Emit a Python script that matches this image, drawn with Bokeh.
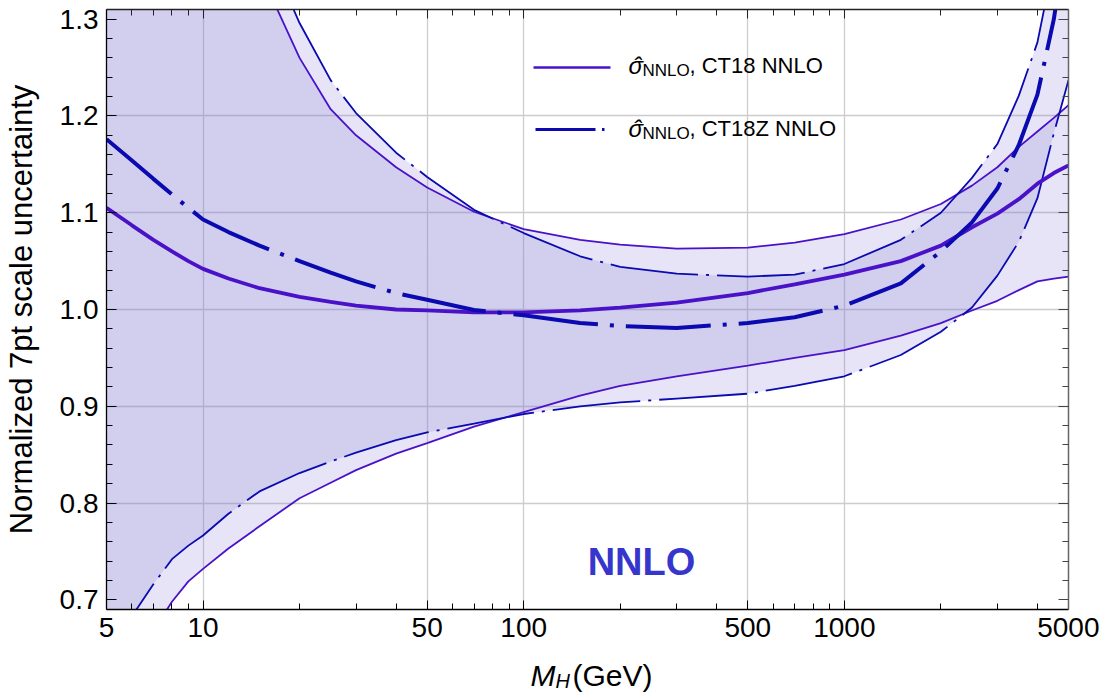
from bokeh.plotting import figure
from bokeh.layouts import column
from bokeh.models import (Range1d, FixedTicker, LogAxis, LinearAxis, Label,
                          BoxAnnotation, ColumnDataSource)
from bokeh.embed import file_html
from bokeh.resources import INLINE

# ---------------- data ----------------
mass = [5, 6, 7, 8, 9, 10, 12, 15, 20, 25, 30, 40, 50, 70, 100, 150, 200, 300,
        500, 700, 1000, 1500, 2000, 2500, 3000, 3500, 4000, 4500, 5000]

ct18_central = [1.105, 1.087, 1.072, 1.060, 1.050, 1.042, 1.032, 1.022, 1.013, 1.008,
                1.004, 1.000, 0.999, 0.997, 0.997, 0.999, 1.002, 1.007, 1.017, 1.026,
                1.036, 1.050, 1.066, 1.085, 1.099, 1.114, 1.130, 1.141, 1.149]
ct18_upper = [1.80, 1.73, 1.66, 1.60, 1.55, 1.50, 1.43, 1.35, 1.26, 1.207,
              1.180, 1.147, 1.126, 1.101, 1.083, 1.072, 1.067, 1.063, 1.064, 1.069,
              1.078, 1.093, 1.109, 1.128, 1.147, 1.168, 1.184, 1.198, 1.211]
ct18_lower = [0.600, 0.635, 0.668, 0.698, 0.719, 0.732, 0.753, 0.776, 0.805, 0.821,
              0.834, 0.851, 0.862, 0.879, 0.894, 0.911, 0.921, 0.931, 0.942, 0.950,
              0.958, 0.973, 0.986, 0.999, 1.009, 1.020, 1.029, 1.032, 1.034]

ct18z_central = [1.176, 1.154, 1.135, 1.119, 1.105, 1.093, 1.080, 1.066, 1.050, 1.038,
                 1.029, 1.017, 1.010, 0.9995, 0.994, 0.986, 0.983, 0.981, 0.986, 0.992,
                 1.004, 1.027, 1.060, 1.090, 1.125, 1.170, 1.222, 1.300, 1.400]
ct18z_upper = [1.95, 1.85, 1.76, 1.68, 1.62, 1.57, 1.48, 1.39, 1.296, 1.237,
               1.203, 1.162, 1.137, 1.103, 1.079, 1.055, 1.044, 1.037, 1.034, 1.036,
               1.047, 1.072, 1.100, 1.136, 1.171, 1.221, 1.276, 1.36, 1.48]
ct18z_lower = [0.640, 0.683, 0.716, 0.742, 0.756, 0.7665, 0.789, 0.812, 0.831, 0.843,
               0.852, 0.865, 0.873, 0.882, 0.892, 0.900, 0.904, 0.908, 0.913, 0.921,
               0.931, 0.953, 0.977, 1.002, 1.035, 1.070, 1.115, 1.182, 1.237]

x_major_ticks = [5, 10, 50, 100, 500, 1000, 5000]
x_tick_labels = ["5", "10", "50", "100", "500", "1000", "5000"]
x_minor_ticks = [6, 7, 8, 9, 20, 30, 40, 60, 70, 80, 90, 200, 300, 400,
                 600, 700, 800, 900, 2000, 3000, 4000]
x_grid_ticks = [10, 50, 100, 500, 1000]
y_major_ticks = [0.7, 0.8, 0.9, 1.0, 1.1, 1.2, 1.3]
y_tick_labels = ["0.7", "0.8", "0.9", "1.0", "1.1", "1.2", "1.3"]
y_minor_ticks = [0.72, 0.74, 0.76, 0.78, 0.82, 0.84, 0.86, 0.88, 0.92, 0.94, 0.96, 0.98,
                 1.02, 1.04, 1.06, 1.08, 1.12, 1.14, 1.16, 1.18, 1.22, 1.24, 1.26, 1.28]
y_grid_ticks = [0.8, 0.9, 1.0, 1.1, 1.2]

legend_names = [", CT18 NNLO", ", CT18Z NNLO"]

# ---------------- style ----------------
FONT = "Liberation Sans"
C18 = "#4a12c8"
C18Z = "#0a0ab0"
BAND = "#8278d2"
BAND_ALPHA = 0.2
MID = 0.3465  # middle of text box above baseline, in em

W = 1099
BL, BR, BT = 100, 31, 9

p = figure(width=W, height=650, x_axis_type="log",
           x_range=Range1d(5, 5000), y_range=Range1d(0.69, 1.31),
           output_backend="svg", toolbar_location=None,
           min_border_left=BL, min_border_right=BR, min_border_top=BT,
           min_border_bottom=41)
p.outline_line_color = None
p.background_fill_color = "white"

src = ColumnDataSource(data=dict(
    m=mass, c18=ct18_central, u18=ct18_upper, l18=ct18_lower,
    cz=ct18z_central, uz=ct18z_upper, lz=ct18z_lower))

# bands
p.varea(x="m", y1="l18", y2="u18", source=src, fill_color=BAND, fill_alpha=BAND_ALPHA)
p.varea(x="m", y1="lz", y2="uz", source=src, fill_color=BAND, fill_alpha=BAND_ALPHA)

# band edges
thin_dash = "88 8 3 8"
p.line("m", "u18", source=src, line_color=C18, line_width=1.8)
p.line("m", "l18", source=src, line_color=C18, line_width=1.8)
p.line("m", "uz", source=src, line_color=C18Z, line_width=1.8, line_dash=thin_dash)
p.line("m", "lz", source=src, line_color=C18Z, line_width=1.8, line_dash=thin_dash)
# central values
p.line("m", "c18", source=src, line_color=C18, line_width=3.8)
p.line("m", "cz", source=src, line_color=C18Z, line_width=4.0, line_dash="85 12 4 12")

# ---------------- axes ----------------
xb = p.below[0]
xb.ticker = FixedTicker(ticks=x_major_ticks, minor_ticks=x_minor_ticks)
xb.major_label_overrides = {t: s for t, s in zip(x_major_ticks, x_tick_labels)}
yl = p.left[0]
yl.ticker = FixedTicker(ticks=y_major_ticks, minor_ticks=y_minor_ticks)
yl.major_label_overrides = {t: s for t, s in zip(y_major_ticks, y_tick_labels)}

for ax in (xb, yl):
    ax.major_tick_in = 9
    ax.major_tick_out = 0
    ax.minor_tick_in = 6
    ax.minor_tick_out = 0
    ax.axis_line_color = "black"
    ax.major_tick_line_color = "black"
    ax.minor_tick_line_color = "black"
    ax.axis_line_width = 1.3
    ax.major_label_text_font = FONT
    ax.major_label_text_font_size = "28px"
    ax.major_label_text_color = "black"
    ax.major_label_standoff = 8
yl.major_tick_in = 10
yl.axis_label = "Normalized 7pt scale uncertainty"
yl.axis_label_text_font = FONT
yl.axis_label_text_font_size = "31px"
yl.axis_label_text_font_style = "normal"
yl.axis_label_text_color = "black"
yl.axis_label_standoff = 18

top = LogAxis(ticker=FixedTicker(ticks=x_major_ticks, minor_ticks=x_minor_ticks),
              major_label_text_font_size="0px", major_label_text_color=None,
              major_label_standoff=0,
              major_tick_in=9, major_tick_out=0, minor_tick_in=6, minor_tick_out=0,
              axis_line_color="#222222", major_tick_line_color="#222222",
              minor_tick_line_color="#222222", axis_line_width=1.3)
p.add_layout(top, "above")
right = LinearAxis(ticker=FixedTicker(ticks=y_major_ticks, minor_ticks=y_minor_ticks),
                   major_label_text_font_size="0px", major_label_text_color=None,
                   major_label_standoff=0,
                   major_tick_in=10, major_tick_out=0, minor_tick_in=6, minor_tick_out=0,
                   axis_line_color="#666666", major_tick_line_color="#444444",
                   minor_tick_line_color="#444444", axis_line_width=1.5)
p.add_layout(right, "right")

p.xgrid.ticker = FixedTicker(ticks=x_grid_ticks)
p.ygrid.ticker = FixedTicker(ticks=y_grid_ticks)
for g in (p.xgrid, p.ygrid):
    g.grid_line_color = "#cccccc"
    g.grid_line_width = 1.3


def lab(fig, x, base, text, size, style="normal", color="black", align="left"):
    """x: left (or centre) in px from the frame's left; base: baseline in px
    above the frame's bottom."""
    fig.add_layout(Label(x=x, y=base + MID * size, x_units="screen", y_units="screen",
                         text=text, text_font=FONT, text_font_size=f"{size}px",
                         text_font_style=style, text_color=color,
                         text_align=align, text_baseline="middle"))


def box(l, r, b, t, color):
    p.add_layout(BoxAnnotation(left=l, right=r, bottom=b, top=t,
                               left_units="screen", right_units="screen",
                               bottom_units="screen", top_units="screen",
                               fill_color=color, fill_alpha=1.0, line_color=None,
                               level="overlay"))


# ---------------- legend (samples + texts) ----------------
box(427, 504, 540.7, 543.3, C18)
box(429, 489, 478.5, 481.5, C18Z)
box(495.5, 498, 478.5, 481.5, C18Z)

for base, name in zip((536, 473), legend_names):
    lab(p, 522, base, "\u03c3", 24, "italic")
    lab(p, 531, base, "\u02c6", 24, "italic", align="center")
    lab(p, 536, base - 3, "NNLO", 17)
    lab(p, 583, base, name, 22)

# annotation
lab(p, 535, 34, "NNLO", 38, "bold", "#3636cc", "center")

# ---------------- x-axis title strip ----------------
p2 = figure(width=W, height=42, x_range=Range1d(0, 1), y_range=Range1d(0, 1),
            output_backend="svg", toolbar_location=None,
            x_axis_location=None, y_axis_location=None,
            min_border_left=BL, min_border_right=BR, min_border_top=0,
            min_border_bottom=0)
p2.outline_line_color = None
p2.grid.visible = False
lab(p2, 424, 7, "M", 30, "italic")
lab(p2, 449, 4.3, "H", 20, "italic")
lab(p2, 466, 7, "(GeV)", 30)

layout = column(p, p2, spacing=0)
open("out.html", "w").write(file_html(layout, INLINE))
